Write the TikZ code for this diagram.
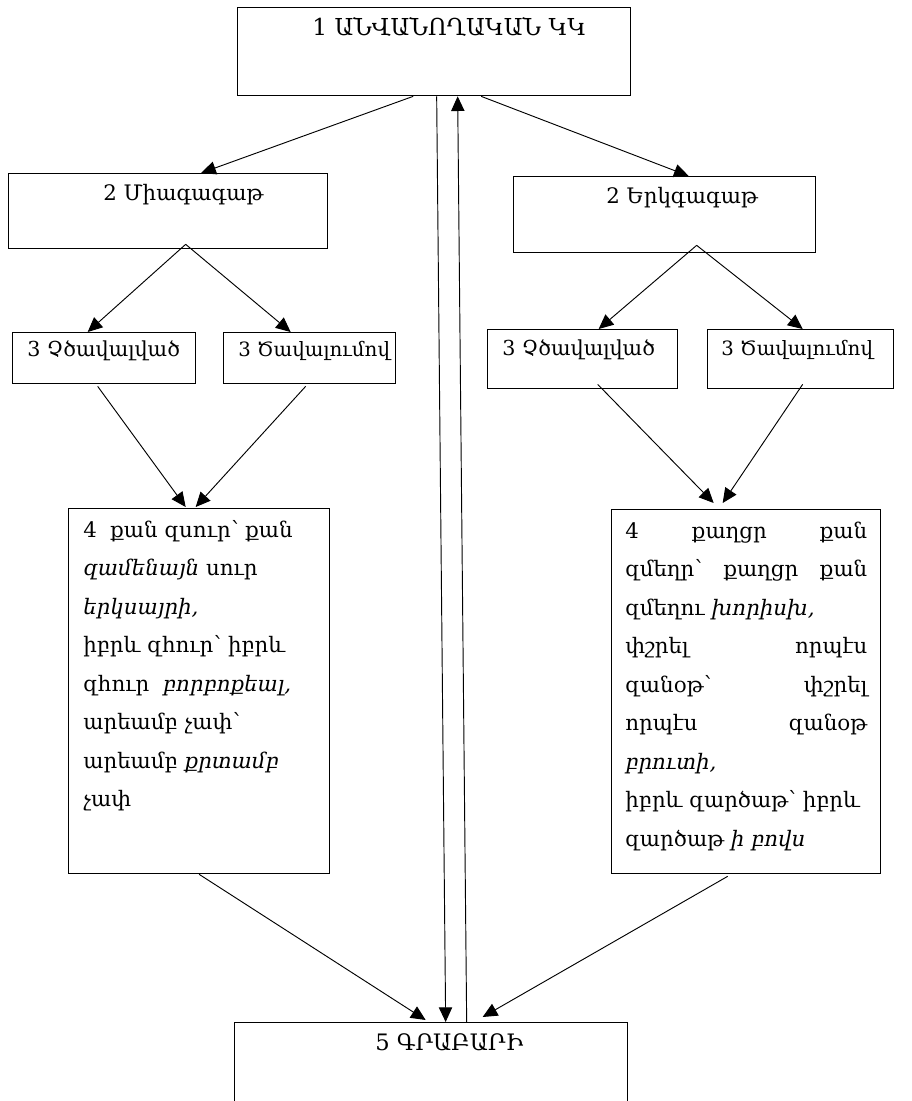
\documentclass[tikz,border=0pt]{standalone}
\usepackage{fontspec}
\setmainfont{DejaVu Serif}
\usetikzlibrary{arrows.meta,calc}

\begin{document}
\begin{tikzpicture}[x=0.75pt,y=0.75pt,yscale=-1,xscale=1]
        \tikzset{
          box/.style 2 args={draw, line width=1pt, minimum width=#1*0.75pt, minimum height=#2*0.75pt, anchor=north west, inner sep=0pt},
          lbl/.style={anchor=base west, inner sep=0pt, font=\fontsize{#1}{17}\selectfont},
          verse/.style={anchor=base west, inner sep=0pt, align=justify, text width=#1*0.75pt, font=\fontsize{16}{28.9}\selectfont},
          arr/.style={-{Triangle[length=11pt,width=10pt]}, line width=0.7pt},
        }
        \useasboundingbox (0,0) rectangle (912,1101);

        %Boxes
        \node[box={393}{88}]  (nom)   at (237,7) {};
        \node[box={319}{75}]  (mia)   at (8,173) {};
        \node[box={302}{76}]  (yerk)  at (513,176) {};
        \node[box={183}{51}]  (lchts) at (12,332) {};
        \node[box={172}{51}]  (lcav)  at (223,332) {};
        \node[box={190}{59}]  (rchts) at (487,329) {};
        \node[box={186}{59}]  (rcav)  at (707,329) {};
        \node[box={261}{365}] (lgr)   at (68,508) {};
        \node[box={269}{364}] (rgr)   at (611,509) {};
        \node[box={393}{110}] (grab)  at (234,1022) {};

        % Text Node
        \node[lbl=17.5] (nomt)   at (312,35)  {1 ԱՆՎԱՆՈՂԱԿԱՆ ԿԿ};
        % Text Node
        \node[lbl=16] (miat)   at (103,200) {2 Միագագաթ};
        % Text Node
        \node[lbl=16] (yerkt)  at (606,203) {2 Երկգագաթ};
        % Text Node
        \node[lbl=15.5] (lchtst) at (27,356)  {3 Չծավալված};
        % Text Node
        \node[lbl=14.8] (lcavt)  at (238,356) {3 Ծավալումով};
        % Text Node
        \node[lbl=15.5] (rchtst) at (502,355) {3 Չծավալված};
        % Text Node
        \node[lbl=14.8] (rcavt)  at (721,355) {3 Ծավալումով};
        % Text Node
        \node[lbl=17] (grabt)  at (375,1050) {5 ԳՐԱԲԱՐԻ};
        % Text Node
        \node[verse=240] (lgrt) at (83,537) {4~ քան զսուր՝ քան\\
          \textit{զամենայն} սուր\\
          \textit{երկսայրի,}\\
          իբրև զհուր՝ իբրև\\
          զհուր~ \textit{բորբոքեալ,}\\
          արեամբ չափ՝\\
          արեամբ \textit{քրտամբ}\\
          չափ};
        % Text Node
        \node[verse=242] (rgrt) at (625,538) {4 քաղցր քան\linebreak
          զմեղր՝ քաղցր քան\linebreak
          զմեղու \textit{խորիսխ,}\\
          փշրել որպէս\linebreak
          զանօթ՝ փշրել\linebreak
          որպէս զանօթ\linebreak
          \textit{բրուտի,}\\
          իբրև զարծաթ՝ իբրև\\
          զարծաթ \textit{ի բովս}};

        %Connectors
        \draw[arr] ($(nom.south)+(-21,0)$) -- ($(mia.north)+(33,0)$);
        \draw[arr] ($(nom.south)+(47,0)$) -- ($(yerk.north)+(24,0)$);
        \draw[arr] ($(nom.south)+(2.5,0)$) -- ($(grab.north)+(14.5,0)$);
        \draw[arr] ($(grab.north)+(35.5,0)$) -- ($(nom.south)+(23.5,0)$);
        \draw[arr] ($(mia.south)+(17.5,-5)$) -- ($(lchts.north)+(-16.5,0)$);
        \draw[arr] ($(mia.south)+(17.5,-5)$) -- ($(lcav.north)+(-19,0)$);
        \draw[arr] ($(yerk.south)+(32,-8)$) -- ($(rchts.north)+(16,0)$);
        \draw[arr] ($(yerk.south)+(32,-8)$) -- ($(rcav.north)+(2,0)$);
        \draw[arr] ($(lchts.south)+(-6.5,2)$) -- ($(lgr.north)+(-13.5,-1)$);
        \draw[arr] ($(lcav.south)+(-4,2)$) -- ($(lgr.north)+(-3.5,-1)$);
        \draw[arr] ($(rchts.south)+(15,-5)$) -- ($(rgr.north)+(-32.5,-6)$);
        \draw[arr] ($(rcav.south)+(2,-5)$) -- ($(rgr.north)+(-23.5,-6)$);
        \draw[arr] (lgr.south) -- ($(grab.north)+(-5.5,-2)$);
        \draw[arr] ($(rgr.south)+(-18.5,2)$) -- ($(grab.north)+(51.5,-5)$);
\end{tikzpicture}
\end{document}
